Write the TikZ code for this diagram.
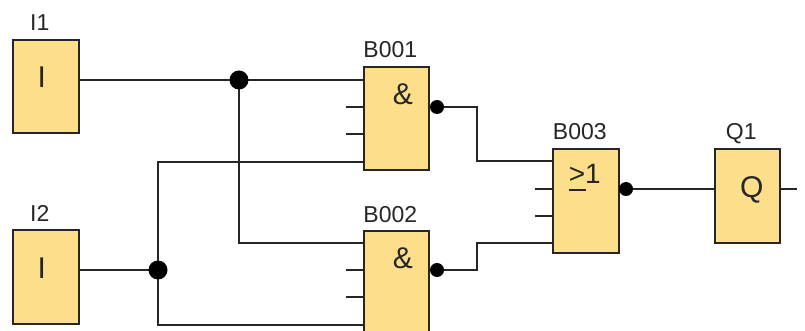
\documentclass[tikz,border=0pt]{standalone}
\usepackage{fontspec}
\setmainfont{Liberation Sans}
\definecolor{boxfill}{HTML}{FDDF8B}
\definecolor{ink}{HTML}{262626}
\begin{document}
\begin{tikzpicture}[x=1pt,y=-1pt,
  blk/.style={draw=ink,line width=1.6pt,fill=boxfill,rectangle,anchor=north west,inner sep=0pt},
  wire/.style={draw=ink,line width=1.6pt},
  lbl/.style={anchor=base,font=\fontsize{23}{23}\selectfont,text=ink,inner sep=0pt},
  sym/.style={anchor=base,font=\fontsize{30}{30}\selectfont,text=ink,inner sep=0pt},
  jdot/.style={fill=black,circle,inner sep=0pt,minimum size=19pt},
  ndot/.style={fill=black,circle,inner sep=0pt,minimum size=14pt}]
\useasboundingbox (0,0) rectangle (805,331);
\clip (0,0) rectangle (805,331);
\fill[white] (0,0) rectangle (805,331);
% blocks
\node[blk,minimum width=66pt,minimum height=93pt] (I1) at (12,39) {};
\node[blk,minimum width=66pt,minimum height=94pt] (I2) at (12,229) {};
\node[blk,minimum width=65pt,minimum height=103pt] (B001) at (363,66) {};
\node[blk,minimum width=65pt,minimum height=103pt] (B002) at (363,230) {};
\node[blk,minimum width=66pt,minimum height=104pt] (B003) at (552,148) {};
\node[blk,minimum width=65pt,minimum height=94pt] (Q1) at (714,148) {};
% labels
\node[lbl] (I1l) at ([xshift=-6pt,yshift=8pt]I1.north) {I1};
\node[lbl] (I2l) at ([xshift=-6pt,yshift=8pt]I2.north) {I2};
\node[lbl] (B001l) at ([xshift=-6pt,yshift=8pt]B001.north) {B001};
\node[lbl] (B002l) at ([xshift=-6pt,yshift=8pt]B002.north) {B002};
\node[lbl] (B003l) at ([xshift=-6pt,yshift=8pt]B003.north) {B003};
\node[lbl] (Q1l) at ([xshift=-6pt,yshift=8pt]Q1.north) {Q1};
% symbols
\node[sym] (I1s) at ([xshift=-4pt,yshift=-49pt]I1.north) {I};
\node[sym] (I2s) at ([xshift=-4pt,yshift=-49pt]I2.north) {I};
\node[sym] (B001s) at ([xshift=6.5pt,yshift=-39pt]B001.north) {\&};
\node[sym] (B002s) at ([xshift=6.5pt,yshift=-38pt]B002.north) {\&};
\node[sym,font=\fontsize{28}{28}\selectfont] (B003s) at ([xshift=-1pt,yshift=-35pt]B003.north) {\rlap{\rule[-8pt]{17pt}{1.8pt}}>1};
\node[sym] (Q1s) at ([xshift=4.5pt,yshift=-49pt]Q1.north) {Q};
% junctions and pins
\coordinate (J1) at (239,80);
\coordinate (J2) at (158,270);
\coordinate (B1a) at (363,80);
\coordinate (B1b) at (363,107);
\coordinate (B1c) at (363,134);
\coordinate (B1d) at (363,162);
\coordinate (B2a) at (363,243);
\coordinate (B2b) at (363,270);
\coordinate (B2c) at (363,297);
\coordinate (B2d) at (363,325);
\coordinate (B3a) at (552,161);
\coordinate (B3b) at (552,189);
\coordinate (B3c) at (552,216);
\coordinate (B3d) at (552,243);
\coordinate (O1) at (437,107);
\coordinate (O2) at (437,270);
\coordinate (O3) at (626,189);
\coordinate (Qout) at (797,189);
% wires
\draw[wire] (I1.east |- J1) -- (J1) -- (B1a);
\draw[wire] (J1) |- (B2a);
\draw[wire] (I2.east |- J2) -- (J2);
\draw[wire] (J2) |- (B1d);
\draw[wire] (J2) |- (B2d);
\draw[wire] (B1b) -- ++(-17,0);
\draw[wire] (B1c) -- ++(-17,0);
\draw[wire] (B2b) -- ++(-17,0);
\draw[wire] (B2c) -- ++(-17,0);
\draw[wire] (B3b) -- ++(-17,0);
\draw[wire] (B3c) -- ++(-17,0);
\draw[wire] (O1) -- (477,107) |- (B3a);
\draw[wire] (O2) -- (477,270) |- (B3d);
\draw[wire] (O3) -- (Q1.west |- O3);
\draw[wire] (Q1.east |- Qout) -- (Qout);
% dots
\node[jdot] (J1d) at (J1) {};
\node[jdot] (J2d) at (J2) {};
\node[ndot] (O1d) at (O1) {};
\node[ndot] (O2d) at (O2) {};
\node[ndot] (O3d) at (O3) {};
\end{tikzpicture}
\end{document}
